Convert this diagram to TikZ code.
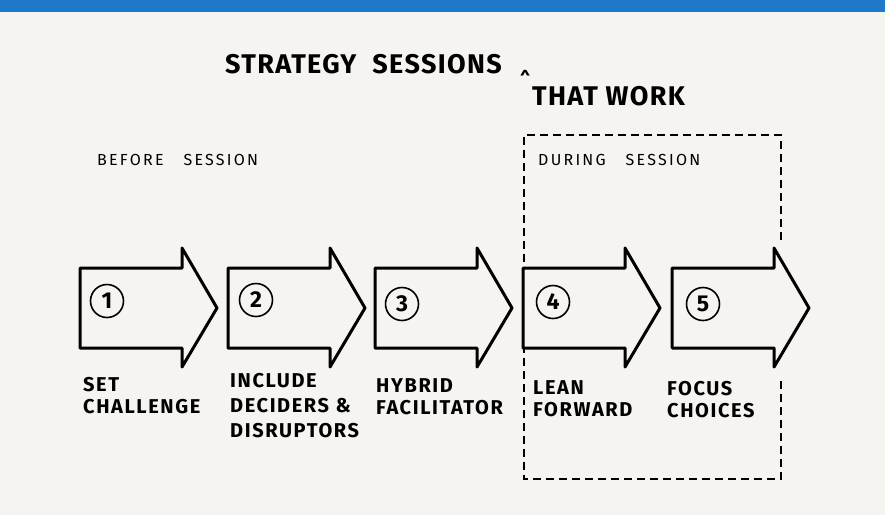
\documentclass[tikz,border=0pt]{standalone}
\usepackage{fontspec}
\setmainfont{Fira Sans}
\definecolor{bg}{HTML}{F5F4F0}
\definecolor{bar}{HTML}{1F79C9}
\tikzset{
  arr/.style={draw=black, line width=3pt, line join=round, fill=bg},
  num/.style={circle, draw=black, line width=1.6pt, minimum size=33pt, inner sep=0pt, font=\bfseries\fontsize{23}{23}\selectfont},
  lbl/.style={anchor=north west, inner sep=0pt, align=left, font=\bfseries\fontsize{20}{22}\selectfont\addfontfeature{LetterSpace=8}},
  sub/.style={anchor=north west, inner sep=0pt, font=\fontsize{16}{16}\selectfont\addfontfeature{LetterSpace=14}},
  ttl/.style={anchor=north west, inner sep=0pt, font=\bfseries\fontsize{27}{27}\selectfont\addfontfeature{LetterSpace=5}},
  box/.style={draw=black, line width=1.8pt, dash pattern=on 8pt off 5pt},
}
\newcommand\bigarrow[1]{%
  \draw[arr] (#1,268) -- (#1+102,268) -- (#1+102,248) -- (#1+137,308) -- (#1+102,367) -- (#1+102,348) -- (#1,348) -- cycle;}
\begin{document}
\begin{tikzpicture}[x=1pt, y=-1pt]
\fill[bg] (0,0) rectangle (885,515);
\useasboundingbox (0,0) rectangle (885,515);
\fill[bar] (0,0) rectangle (885,12);
% title
\node[ttl] (t1) at (225,54) {STRATEGY\hspace{16pt}SESSIONS};
\node[anchor=north west, inner sep=0pt, font=\bfseries\fontsize{18}{18}\selectfont] (caret) at (520,70) {\textasciicircum};
\node[ttl] (t2) at (532,86) {THAT WORK};
% phase labels
\node[sub] (before) at (97,154) {BEFORE\hspace{20pt}SESSION};
\node[sub] (during) at (538,154) {DURING\hspace{20pt}SESSION};
% dashed box
\coordinate (bTL) at (524,135);
\coordinate (bTR) at (781,135);
\coordinate (bRU) at (781,240);
\coordinate (bRL) at (781,378);
\coordinate (bBR) at (781,479);
\coordinate (bBL) at (524,479);
\draw[box] (bRU) -- (bTR) -- (bTL) -- (bBL) -- (bBR) -- (bRL);
% arrows
\bigarrow{80}
\bigarrow{228}
\bigarrow{375}
\bigarrow{523}
\bigarrow{672}
% numbers
\node[num] (n1) at (107,301) {1};
\node[num] (n2) at (256,300) {2};
\node[num] (n3) at (402,304) {3};
\node[num] (n4) at (553,302) {4};
\node[num] (n5) at (703,304) {5};
% labels
\node[lbl] (l1) at (83,377) {SET\\CHALLENGE};
\node[lbl, font=\bfseries\fontsize{20}{25}\selectfont\addfontfeature{LetterSpace=8}] (l2) at (230,373) {INCLUDE\\DECIDERS \&\\DISRUPTORS};
\node[lbl] (l3) at (376,378) {HYBRID\\FACILITATOR};
\node[lbl] (l4) at (533,380) {LEAN\\FORWARD};
\node[lbl] (l5) at (667,381) {FOCUS\\CHOICES};
\end{tikzpicture}
\end{document}
